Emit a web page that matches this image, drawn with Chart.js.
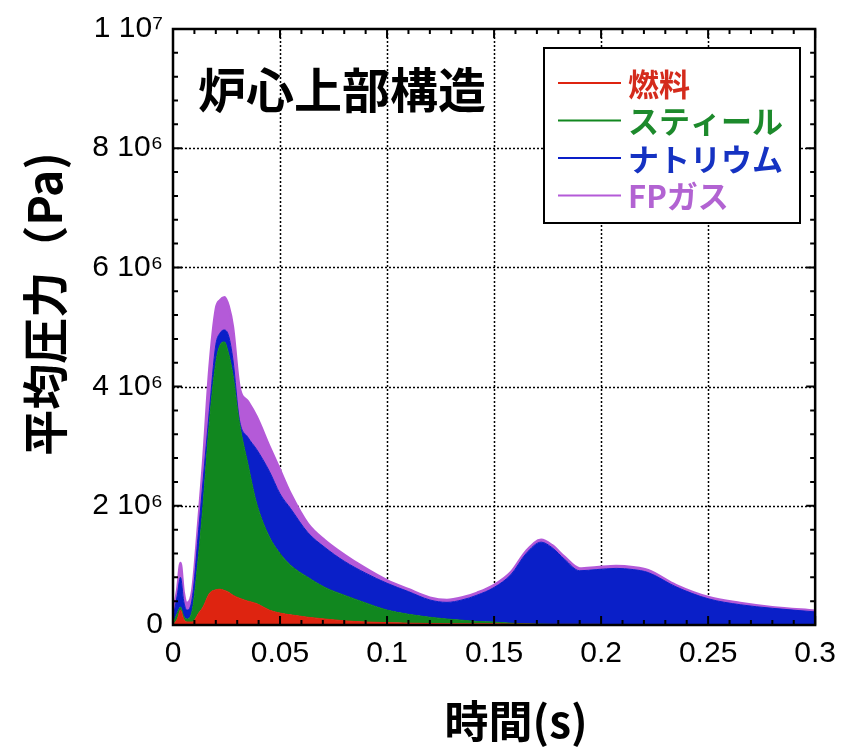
<!DOCTYPE html>
<html>
<head>
<meta charset="utf-8">
<script src="https://cdn.jsdelivr.net/npm/chart.js@4"></script>
<style>
  body { margin: 0; background: #fff; }
</style>
</head>
<body>
<canvas id="myChart" width="847" height="754"></canvas>
<script>
// time (s)
var T = [0, 0.002, 0.0035, 0.005, 0.0065, 0.009, 0.012, 0.014, 0.017, 0.020, 0.022, 0.024, 0.026,
  0.028, 0.031, 0.035, 0.039, 0.045, 0.05, 0.055, 0.063, 0.071, 0.08,
  0.09, 0.1, 0.11, 0.12, 0.128, 0.135, 0.142, 0.15, 0.158, 0.165,
  0.172, 0.177, 0.183, 0.19, 0.198, 0.207, 0.215, 0.222, 0.235, 0.25,
  0.265, 0.28, 0.3];

// pressure contributions, in units of 10^6 Pa (stacked)
var FUEL = [0, 0.1, 0.25, 0.1, 0.05, 0.05, 0.2, 0.3, 0.53, 0.59, 0.6, 0.58, 0.55,
  0.5, 0.45, 0.4, 0.36, 0.25, 0.2, 0.17, 0.13, 0.1, 0.07,
  0.05, 0.04, 0.03, 0.025, 0.02, 0.02, 0.02, 0.02, 0.015, 0.015,
  0.01, 0.01, 0.01, 0.01, 0.01, 0.005, 0.005, 0.005, 0, 0,
  0, 0, 0];
var STEEL = [0.02, 0.1, 0.05, 0.05, 0.05, 0.2, 1.0, 1.7, 2.87, 3.81, 4.1, 4.17, 4.0,
  3.7, 2.95, 2.3, 1.69, 1.23, 1.0, 0.83, 0.67, 0.53, 0.43,
  0.32, 0.21, 0.15, 0.105, 0.08, 0.06, 0.04, 0.03, 0.015, 0.005,
  0.005, 0, 0, 0, 0, 0, 0, 0, 0, 0,
  0, 0, 0];
var SODIUM = [0.08, 0.3, 0.5, 0.25, 0.15, 0.2, 0.4, 0.4, 0.2, 0.3, 0.2, 0.2, 0.3,
  0.25, 0.05, 0.45, 0.9, 1.1, 1.0, 0.95, 0.75, 0.67, 0.57,
  0.5, 0.45, 0.38, 0.29, 0.28, 0.34, 0.44, 0.58, 0.82, 1.18,
  1.375, 1.29, 1.09, 0.9, 0.92, 0.945, 0.925, 0.875, 0.64, 0.44,
  0.34, 0.28, 0.22];
var FP_GAS = [0.1, 0.1, 0.24, 0.15, 0.12, 0.13, 0.2, 0.3, 0.7, 0.6, 0.55, 0.55, 0.5,
  0.55, 0.55, 0.6, 0.55, 0.42, 0.4, 0.25, 0.15, 0.12, 0.11,
  0.08, 0.05, 0.04, 0.04, 0.04, 0.04, 0.04, 0.04, 0.04, 0.04,
  0.04, 0.04, 0.04, 0.04, 0.04, 0.04, 0.04, 0.04, 0.03, 0.03,
  0.03, 0.02, 0.02];

var X_TICKS = ['0', '0.05', '0.1', '0.15', '0.2', '0.25', '0.3'];
var Y_TICKS = ['0', '2 10⁶', '4 10⁶', '6 10⁶', '8 10⁶', '1 10⁷'];

var LABELS = ['燃料', 'スティール', 'ナトリウム', 'FPガス'];
var FILLS = ['#de2410', '#11871f', '#0a1fc8', '#b45ad8'];
var TEXT_COLORS = ['#d42b1c', '#1d8a2c', '#1532c2', '#b263d2'];

function points(vals) {
  return T.map(function (t, i) { return { x: t, y: vals[i] * 1e6 }; });
}

var JP = '"Noto Sans CJK JP", sans-serif';
var LAT = '"Liberation Sans", Arial, sans-serif';

// grid, frame, inward ticks, inset title and legend
var decor = {
  id: 'decor',
  beforeDatasetsDraw: function (chart) {
    var ctx = chart.ctx, a = chart.chartArea, x = chart.scales.x, y = chart.scales.y;
    ctx.save();
    ctx.strokeStyle = '#000';
    ctx.lineWidth = 1.5;
    ctx.setLineDash([2, 2]);
    for (var i = 1; i < 6; i++) {
      var px = Math.round(x.getPixelForValue(i * 0.05)) + 0.5;
      ctx.beginPath(); ctx.moveTo(px, a.top); ctx.lineTo(px, a.bottom); ctx.stroke();
    }
    for (var j = 1; j < 5; j++) {
      var py = Math.round(y.getPixelForValue(j * 2e6)) + 0.5;
      ctx.beginPath(); ctx.moveTo(a.left, py); ctx.lineTo(a.right, py); ctx.stroke();
    }
    ctx.restore();
  },
  afterDatasetsDraw: function (chart) {
    var ctx = chart.ctx, a = chart.chartArea, x = chart.scales.x, y = chart.scales.y;
    ctx.save();
    ctx.strokeStyle = '#000';
    ctx.lineWidth = 2;
    for (var i = 0; i <= 30; i++) {
      var px = x.getPixelForValue(i * 0.01);
      var len = i % 5 === 0 ? 9 : 5;
      ctx.beginPath();
      ctx.moveTo(px, a.bottom); ctx.lineTo(px, a.bottom - len);
      ctx.moveTo(px, a.top); ctx.lineTo(px, a.top + len);
      ctx.stroke();
    }
    for (var j = 0; j <= 25; j++) {
      var py = y.getPixelForValue(j * 4e5);
      var l2 = j % 5 === 0 ? 9 : 5;
      ctx.beginPath();
      ctx.moveTo(a.left, py); ctx.lineTo(a.left + l2, py);
      ctx.moveTo(a.right, py); ctx.lineTo(a.right - l2, py);
      ctx.stroke();
    }
    ctx.lineWidth = 2.5;
    ctx.strokeRect(a.left, a.top, a.right - a.left, a.bottom - a.top);
    ctx.restore();
  },
  afterDraw: function (chart) {
    var ctx = chart.ctx;
    ctx.save();
    // inset title
    ctx.fillStyle = '#000';
    ctx.font = 'bold 48px ' + JP;
    ctx.textBaseline = 'middle';
    ctx.fillText('炉心上部構造', 198, 90);

    // legend box
    ctx.fillStyle = '#fff';
    ctx.fillRect(544, 48, 256, 175);
    ctx.strokeStyle = '#000';
    ctx.lineWidth = 2;
    ctx.strokeRect(544, 48, 256, 175);
    ctx.font = 'bold 31px ' + JP;
    chart.data.datasets.forEach(function (ds, k) {
      var ry = 83 + k * 37.5;
      ctx.strokeStyle = ds.borderColor;
      ctx.lineWidth = 2;
      ctx.beginPath(); ctx.moveTo(558, ry); ctx.lineTo(621, ry); ctx.stroke();
      ctx.fillStyle = TEXT_COLORS[k];
      ctx.fillText(ds.label, 628, ry + 1);
    });
    ctx.restore();
  }
};

const ctx = document.getElementById('myChart');
new Chart(ctx, {
  type: 'line',
  data: {
    datasets: [
      { label: LABELS[0], data: points(FUEL), fill: 'origin', backgroundColor: FILLS[0], borderColor: FILLS[0], borderWidth: 1 },
      { label: LABELS[1], data: points(STEEL), fill: '-1', backgroundColor: FILLS[1], borderColor: FILLS[1], borderWidth: 1 },
      { label: LABELS[2], data: points(SODIUM), fill: '-1', backgroundColor: FILLS[2], borderColor: FILLS[2], borderWidth: 1 },
      { label: LABELS[3], data: points(FP_GAS), fill: '-1', backgroundColor: FILLS[3], borderColor: FILLS[3], borderWidth: 2.5 }
    ]
  },
  options: {
    responsive: false,
    animation: false,
    elements: {
      point: { radius: 0 },
      line: { cubicInterpolationMode: 'monotone' }
    },
    layout: {
      padding: { top: 29, right: 22, left: 0, bottom: 0 }
    },
    plugins: {
      legend: { display: false },
      tooltip: { enabled: false }
    },
    scales: {
      x: {
        type: 'linear',
        min: 0,
        max: 0.3,
        grid: { display: false, drawTicks: false },
        border: { display: false },
        ticks: {
          stepSize: 0.05,
          padding: 11,
          color: '#000',
          font: { family: LAT, size: 30 },
          callback: function (v) { return X_TICKS[Math.round(v / 0.05)]; }
        },
        title: {
          display: true,
          text: '\u3000時間(s)',
          color: '#000',
          font: { family: JP, size: 44, weight: 'bold' },
          padding: { top: 0, bottom: 6 }
        },
        afterFit: function (scale) { scale.height = 129; }
      },
      y: {
        stacked: true,
        min: 0,
        max: 1e7,
        grid: { display: false, drawTicks: false },
        border: { display: false },
        ticks: {
          stepSize: 2e6,
          padding: 10,
          color: '#000',
          font: { family: LAT, size: 30 },
          callback: function (v) { return Y_TICKS[Math.round(v / 2e6)]; }
        },
        title: {
          display: true,
          text: '\u3000平均圧力（Pa)',
          color: '#000',
          font: { family: JP, size: 46, weight: 'bold' },
          padding: { top: 17, bottom: 0 }
        },
        afterFit: function (scale) { scale.width = 173; }
      }
    }
  },
  plugins: [decor]
});
</script>
</body>
</html>
